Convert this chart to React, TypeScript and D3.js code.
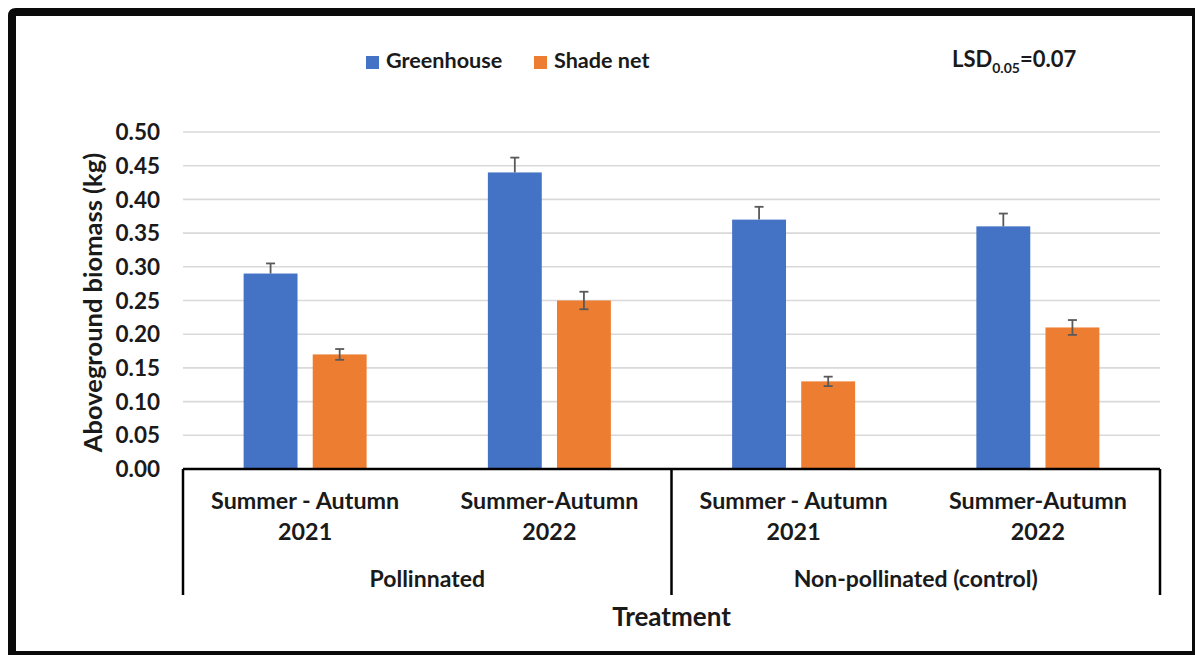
import React from "react";
import * as d3 from "d3";

const catLine1 = ["Summer - Autumn", "Summer-Autumn", "Summer - Autumn", "Summer-Autumn"];
const catLine2 = ["2021", "2022", "2021", "2022"];
const groups = ["Pollinnated", "Non-pollinated (control)"];
const seriesNames = ["Greenhouse", "Shade net"];
const greenhouse = [0.29, 0.44, 0.37, 0.36];
const greenhouseErr = [0.015, 0.022, 0.019, 0.019];
const shadeNet = [0.17, 0.25, 0.13, 0.21];
const shadeNetErr = [0.008, 0.013, 0.007, 0.011];
const yTicks = [0, 0.05, 0.1, 0.15, 0.2, 0.25, 0.3, 0.35, 0.4, 0.45, 0.5];

const W = 1195;
const H = 655;
const FONT = "Lato, 'Open Sans', sans-serif";
const colors = ["#4472C4", "#ED7D31"];

export default function App() {
  const left = 183, right = 1160, top = 132, bottom = 469;
  const x0 = d3.scaleBand<number>().domain(d3.range(4)).range([left, right]).padding(0);
  const x1 = d3.scaleBand<number>().domain([0, 1]).range([-61.5, 61.5]).paddingInner(0.22);
  const y = d3.scaleLinear().domain([0, 0.5]).range([bottom, top]);
  const series = [greenhouse, shadeNet];
  const errs = [greenhouseErr, shadeNetErr];
  const groupEdges = [left, x0(2)!, right];

  return (
    <svg width={W} height={H} style={{ position: "absolute", left: 0, top: 0, background: "#fff" }} fontFamily={FONT} fontWeight={700}>
      {/* frame */}
      <path
        d={`M8,16 Q8,8 16,8 L1195,8 L1195,655 L8,655 Z M16,16 L16,651 L1192,651 L1192,16 Z`}
        fill="#0a0a0a"
        fillRule="evenodd"
      />
      <rect x={16} y={16} width={1176} height={635} fill="#fff" />

      {/* gridlines */}
      {yTicks.map((t) => (
        <line key={t} x1={left} x2={right} y1={y(t)} y2={y(t)} stroke="#d9d9d9" strokeWidth={1.6} />
      ))}
      {/* y tick labels */}
      {yTicks.map((t) => (
        <text key={"l" + t} x={160} y={y(t)} dy="0.36em" textAnchor="end" fontSize={22.5} fill="#1a1a1a">
          {d3.format(".2f")(t)}
        </text>
      ))}
      {/* y title */}
      <text
        transform={`translate(102,${(top + bottom) / 2 + 2}) rotate(-90)`}
        textAnchor="middle"
        fontSize={25.5}
        fill="#1a1a1a"
      >
        Aboveground biomass (kg)
      </text>

      {/* bars */}
      {series.map((vals, s) =>
        vals.map((v, i) => {
          const bx = x0(i)! + x0.bandwidth() / 2 + x1(s)!;
          return (
            <rect key={`b${s}-${i}`} x={bx} y={y(v)} width={x1.bandwidth()} height={y(0) - y(v)} fill={colors[s]} />
          );
        })
      )}
      {/* error bars */}
      {series.map((vals, s) =>
        vals.map((v, i) => {
          const cx = x0(i)! + x0.bandwidth() / 2 + x1(s)! + x1.bandwidth() / 2;
          const hi = y(v + errs[s][i]);
          const lo = s === 0 ? y(v) : y(v - errs[s][i]);
          return (
            <g key={`e${s}-${i}`} stroke="#595959" strokeWidth={1.8}>
              <line x1={cx} x2={cx} y1={hi} y2={lo} />
              <line x1={cx - 4.5} x2={cx + 4.5} y1={hi} y2={hi} />
              {s === 1 && <line x1={cx - 4.5} x2={cx + 4.5} y1={lo} y2={lo} />}
            </g>
          );
        })
      )}

      {/* x axis */}
      <line x1={left} x2={right} y1={bottom} y2={bottom} stroke="#000" strokeWidth={2.5} />
      {groupEdges.map((gx, i) => (
        <line key={"v" + i} x1={gx} x2={gx} y1={bottom} y2={595} stroke="#000" strokeWidth={2.5} />
      ))}
      {catLine1.map((c, i) => (
        <text key={"c" + i} x={x0(i)! + x0.bandwidth() / 2} y={509} textAnchor="middle" fontSize={23.3} fill="#1a1a1a">
          {c}
        </text>
      ))}
      {catLine2.map((c, i) => (
        <text key={"d" + i} x={x0(i)! + x0.bandwidth() / 2} y={540} textAnchor="middle" fontSize={23.3} fill="#1a1a1a">
          {c}
        </text>
      ))}
      {groups.map((g, i) => (
        <text key={"g" + i} x={(groupEdges[i] + groupEdges[i + 1]) / 2} y={587} textAnchor="middle" fontSize={23} fill="#1a1a1a">
          {g}
        </text>
      ))}
      <text x={(left + right) / 2} y={626} textAnchor="middle" fontSize={26} fill="#1a1a1a">
        Treatment
      </text>

      {/* legend */}
      {seriesNames.map((n, i) => {
        const lx = [366, 534][i];
        return (
          <g key={"lg" + i}>
            <rect x={lx} y={56} width={13} height={13} fill={colors[i]} />
            <text x={lx + 20} y={68} fontSize={21.6} fill="#1a1a1a">
              {n}
            </text>
          </g>
        );
      })}
      {/* LSD */}
      <text x={952} y={67} fontSize={22} fill="#1a1a1a">
        LSD
        <tspan fontSize={14} dy={6}>0.05</tspan>
        <tspan dy={-6}>=0.07</tspan>
      </text>
    </svg>
  );
}
